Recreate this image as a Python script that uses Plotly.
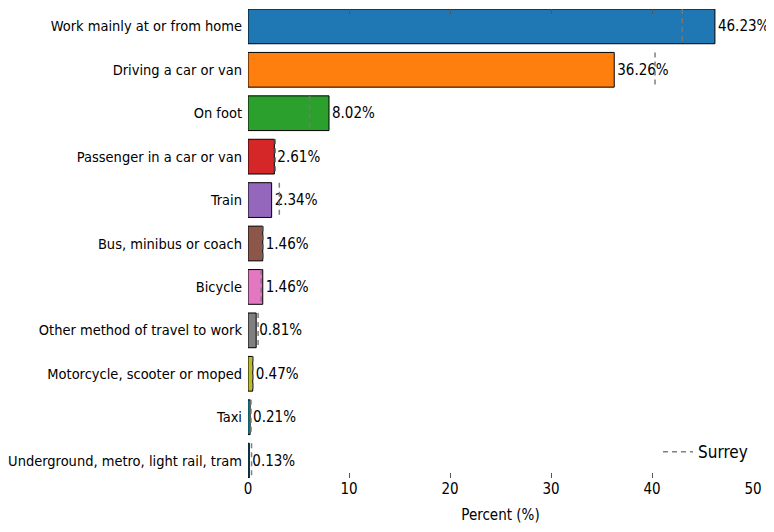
import plotly.graph_objects as go

# Method of travel to work (percent of residents)
categories = [
    "Work mainly at or from home",
    "Driving a car or van",
    "On foot",
    "Passenger in a car or van",
    "Train",
    "Bus, minibus or coach",
    "Bicycle",
    "Other method of travel to work",
    "Motorcycle, scooter or moped",
    "Taxi",
    "Underground, metro, light rail, tram",
]
values = [46.23, 36.26, 8.02, 2.61, 2.34, 1.46, 1.46, 0.81, 0.47, 0.21, 0.13]
surrey = [43.0, 40.3, 6.1, 2.7, 3.1, 1.5, 1.3, 1.0, 0.5, 0.3, 0.35]
x_ticks = [0, 10, 20, 30, 40, 50]

tab10 = ["#1f77b4", "#ff7f0e", "#2ca02c", "#d62728", "#9467bd",
         "#8c564b", "#e377c2", "#7f7f7f", "#bcbd22", "#17becf"]
colors = [tab10[i % len(tab10)] for i in range(len(categories))]
FONT = "DejaVu Sans Condensed, DejaVu Sans"
ypos = list(range(len(categories)))

fig = go.Figure()
fig.add_trace(go.Bar(
    x=values,
    y=ypos,
    orientation="h",
    width=0.8,
    marker=dict(color=colors, line=dict(color="black", width=1)),
    text=[f"{v:.2f}%" for v in values],
    textposition="outside",
    constraintext="none",
    cliponaxis=False,
    textfont=dict(size=15, color="black", family=FONT),
    showlegend=False,
))

# Surrey comparison: short dashed marker across each bar
sx, sy = [], []
for i, v in enumerate(surrey):
    sx += [v, v, None]
    sy += [i - 0.4, i + 0.4, None]
fig.add_trace(go.Scatter(
    x=sx, y=sy, mode="lines", name="Surrey",
    line=dict(color="rgba(120,120,120,0.95)", width=1.5, dash="5px,4px"),
))

# page body has an 8px margin, so the figure is a little smaller than the window
fig.update_layout(
    width=766, height=524,
    margin=dict(l=240, r=21, t=1, b=54),
    plot_bgcolor="white", paper_bgcolor="white",
    font=dict(family=FONT, size=15, color="black"),
    bargap=0.2,
    legend=dict(x=1.0, xanchor="right", y=0.055, yanchor="middle",
                bgcolor="rgba(0,0,0,0)", font=dict(size=17)),
    xaxis=dict(
        range=[0, 50], tickvals=x_ticks, ticks="inside", ticklen=5,
        tickcolor="#555", mirror="ticks", showgrid=False, zeroline=False,
        showline=False, automargin=False,
        title=dict(text="Percent (%)", font=dict(size=15), standoff=12),
    ),
    yaxis=dict(
        range=[len(categories) - 0.6, -0.4], tickvals=ypos, ticktext=categories,
        tickfont=dict(size=14.5),
        showgrid=False, zeroline=False, showline=False, ticks="",
        ticklabelstandoff=5, automargin=False,
    ),
)

fig.write_html("out.html")
